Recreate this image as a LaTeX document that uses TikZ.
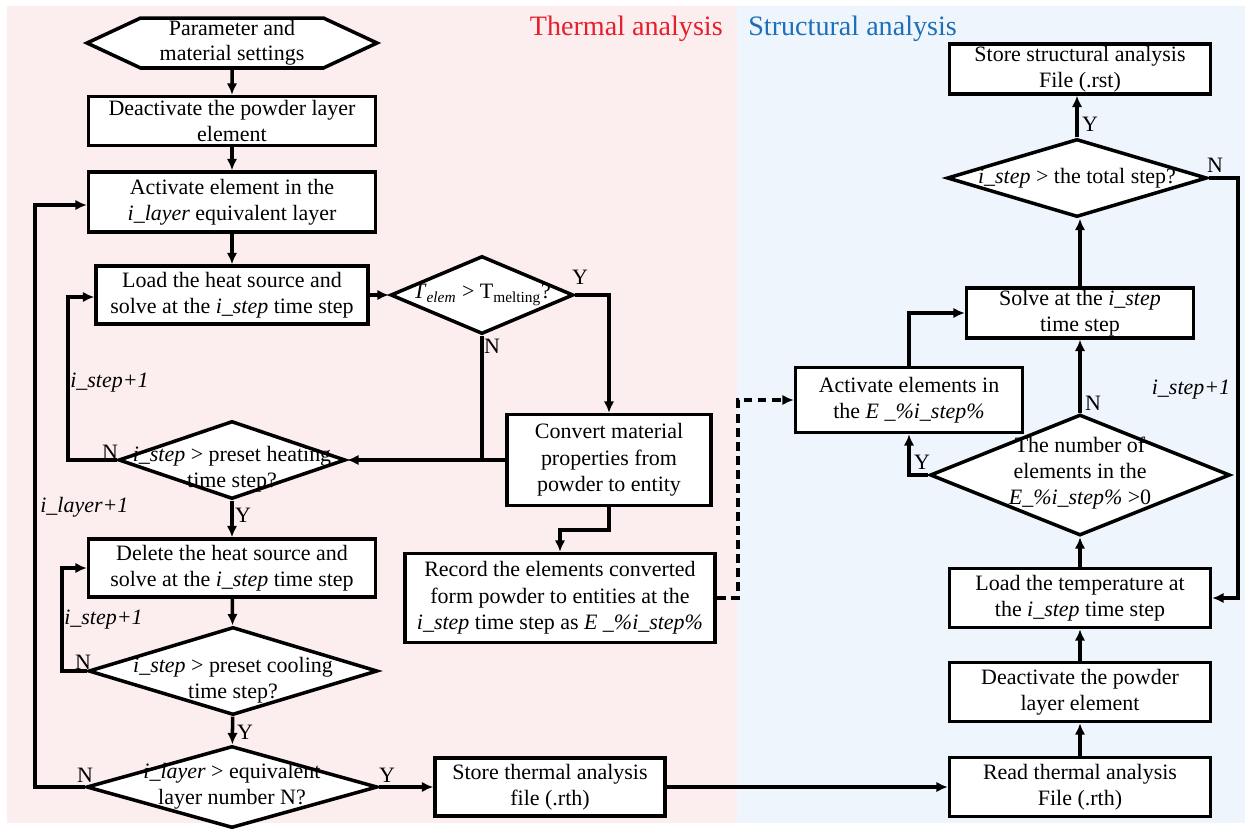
\documentclass[tikz,border=0pt]{standalone}
\usepackage{fontspec}
\setmainfont{Liberation Serif}
\usetikzlibrary{shapes.geometric,shapes.symbols,arrows.meta}

\definecolor{thermbg}{HTML}{FCEEEE}
\definecolor{structbg}{HTML}{EEF5FC}
\definecolor{thermred}{HTML}{E3202B}
\definecolor{structblue}{HTML}{1C6FB8}

\tikzset{
  box/.style={draw,fill=white,line width=2pt,align=center,inner sep=1pt,
    font=\fontsize{12.5}{15}\selectfont},
  decision/.style={diamond,draw,fill=white,line width=2pt,inner sep=0pt},
  inside/.style={align=center,inner sep=0pt,font=\fontsize{12.5}{15}\selectfont},
  startbox/.style={signal,signal to=east and west,signal pointer angle=50,draw,
    fill=white,line width=2pt,align=center,inner sep=1pt,
    font=\fontsize{12.5}{14.5}\selectfont},
  flow/.style={line width=2pt,-{Latex[length=6.5pt,width=6pt]}},
  lbl/.style={inner sep=0pt,font=\fontsize{12.5}{14}\selectfont},
  title/.style={inner sep=0pt,font=\fontsize{16}{19}\selectfont},
}

\begin{document}
\begin{tikzpicture}[x=0.02cm,y=-0.02cm]
  \useasboundingbox (0,0) rectangle (1251,829);
  % the two panels
  \fill[thermbg] (7,6) rectangle (737,823);
  \fill[structbg] (737,6) rectangle (1245,823);
  \node[title,text=thermred,anchor=east] (ttherm) at (723,29) {Thermal analysis};
  \node[title,text=structblue,anchor=west] (tstruct) at (748,29) {Structural analysis};

  % thermal analysis
  \node[startbox,minimum width=5.8cm,minimum height=1cm] (start) at (232,43) {Parameter and\\material settings};
  \node[box,minimum width=5.74cm,minimum height=0.98cm] (deact) at (232,121) {Deactivate the powder layer\\element};
  \node[box,minimum width=5.74cm,minimum height=1.2cm] (act) at (232,202) {Activate element in the\\\textit{i\_layer} equivalent layer};
  \node[box,minimum width=5.44cm,minimum height=1.16cm] (heat) at (232,295) {Load the heat source and\\solve at the \textit{i\_step} time step};
  \node[decision,minimum width=3.66cm,minimum height=1.56cm] (melt) at (482,295) {};
  \node[inside] (meltt) at (482,295) {\textit{T}\textsubscript{\textit{elem}} > T\textsubscript{melting}?};
  \node[decision,minimum width=4.54cm,minimum height=1.56cm] (heatq) at (232,460) {};
  \node[inside] (heatqt) at (232,469) {\textit{i\_step} > preset heating\\time step?};
  \node[box,minimum width=4.08cm,minimum height=1.82cm] (conv) at (609,460) {Convert material\\properties from\\powder to entity};
  \node[box,minimum width=5.74cm,minimum height=1.16cm] (cool) at (232,568) {Delete the heat source and\\solve at the \textit{i\_step} time step};
  \node[box,minimum width=6.2cm,minimum height=1.78cm] (rec) at (560,598) {Record the elements converted\\form powder to entities at the\\\textit{i\_step} time step as \textit{E \_\%i\_step\%}};
  \node[decision,minimum width=5.78cm,minimum height=1.76cm] (coolq) at (233,671) {};
  \node[inside] (coolqt) at (233,680) {\textit{i\_step} > preset cooling\\time step?};
  \node[decision,minimum width=5.82cm,minimum height=1.64cm] (layq) at (232,787) {};
  \node[inside] (layqt) at (232,786) {\textit{i\_layer} > equivalent\\layer number N?};
  \node[box,minimum width=4.6cm,minimum height=1.16cm] (sth) at (550,787) {Store thermal analysis\\file (.rth)};

  % structural analysis
  \node[box,minimum width=5.22cm,minimum height=1.18cm] (read) at (1080,787) {Read thermal analysis\\File (.rth)};
  \node[box,minimum width=5.22cm,minimum height=1.18cm] (deact2) at (1080,692) {Deactivate the powder\\layer element};
  \node[box,minimum width=5.22cm,minimum height=1.18cm] (temp) at (1080,598) {Load the temperature at\\the \textit{i\_step} time step};
  \node[decision,minimum width=6cm,minimum height=2.42cm] (numq) at (1080,475) {};
  \node[inside] (numqt) at (1080,473) {The number of\\elements in the\\\textit{E\_\%i\_step\%} >0};
  \node[box,minimum width=4.54cm,minimum height=1.3cm] (act2) at (909,400) {Activate elements in\\the \textit{E \_\%i\_step\%}};
  \node[box,minimum width=4.54cm,minimum height=0.98cm] (solve) at (1080,313) {Solve at the \textit{i\_step}\\time step};
  \node[decision,minimum width=5.2cm,minimum height=1.56cm] (totq) at (1077,178) {};
  \node[inside] (totqt) at (1077,178) {\textit{i\_step} > the total step?};
  \node[box,minimum width=5.22cm,minimum height=0.96cm] (sst) at (1080,69) {Store structural analysis\\File (.rst)};

  % turning points
  \coordinate (loopheat) at (68,297);
  \coordinate (loopcool) at (62,568);
  \coordinate (looplay) at (35,205);
  \coordinate (bendconv) at (609,530);
  \coordinate (dashturn) at (738,400);
  \coordinate (loopstep) at (1238,178);

  % connectors
  \draw[flow] (start) -- (deact);
  \draw[flow] (deact) -- (act);
  \draw[flow] (act) -- (heat);
  \draw[flow] (heat) -- (melt);
  \draw[flow] (melt.east) -| (conv.north);
  \draw[flow] (conv.west) -- (heatq.east);
  \draw[line width=2pt] (melt.south) -- (melt.south |- conv.west);
  \draw[flow] (heatq.west) -| (loopheat) -- (heat.west |- loopheat);
  \draw[flow] (heatq) -- (cool);
  \draw[flow] (conv.south) -- (bendconv) -| (rec.north);
  \draw[flow,dashed,dash pattern=on 5pt off 3pt] (rec.east) -| (dashturn) -- (act2.west);
  \draw[flow] (cool) -- (coolq);
  \draw[flow] (coolq.west) -| (loopcool) -- (cool.west);
  \draw[flow] (coolq) -- (layq);
  \draw[flow] (layq.west) -| (looplay) -- (act.west |- looplay);
  \draw[flow] (layq.east) -- (sth.west);
  \draw[flow] (sth.east) -- (read.west |- sth.east);
  \draw[flow] (read) -- (deact2);
  \draw[flow] (deact2) -- (temp);
  \draw[flow] (temp) -- (numq);
  \draw[flow] (numq.north) -- (solve.south);
  \draw[flow] (numq.west) -| (act2.south);
  \draw[flow] (act2.north) |- (solve.west);
  \draw[flow] (solve.north) -- (solve.north |- totq.south);
  \draw[flow] (totq.north) -- (totq.north |- sst.south);
  \draw[flow] (totq.east) -- (loopstep) |- (temp.east);

  % branch labels
  \node[lbl] (ymelt) at (580,277) {Y};
  \node[lbl] (nmelt) at (492,346) {N};
  \node[lbl] (nheat) at (110,452) {N};
  \node[lbl,anchor=west] (incheat) at (70,383) {\textit{i\_step+1}};
  \node[lbl] (yheat) at (243,515) {Y};
  \node[lbl,anchor=west] (inclay) at (40,507) {\textit{i\_layer+1}};
  \node[lbl,anchor=west] (inccool) at (64,620) {\textit{i\_step+1}};
  \node[lbl] (ncool) at (83,662) {N};
  \node[lbl] (ycool) at (245,732) {Y};
  \node[lbl] (nlay) at (85,775) {N};
  \node[lbl] (ylay) at (387,775) {Y};
  \node[lbl] (nnum) at (1093,403) {N};
  \node[lbl] (ynum) at (922,462) {Y};
  \node[lbl] (incstep) at (1191,390) {\textit{i\_step+1}};
  \node[lbl] (ytot) at (1090,124) {Y};
  \node[lbl] (ntot) at (1215,165) {N};
\end{tikzpicture}
\end{document}
